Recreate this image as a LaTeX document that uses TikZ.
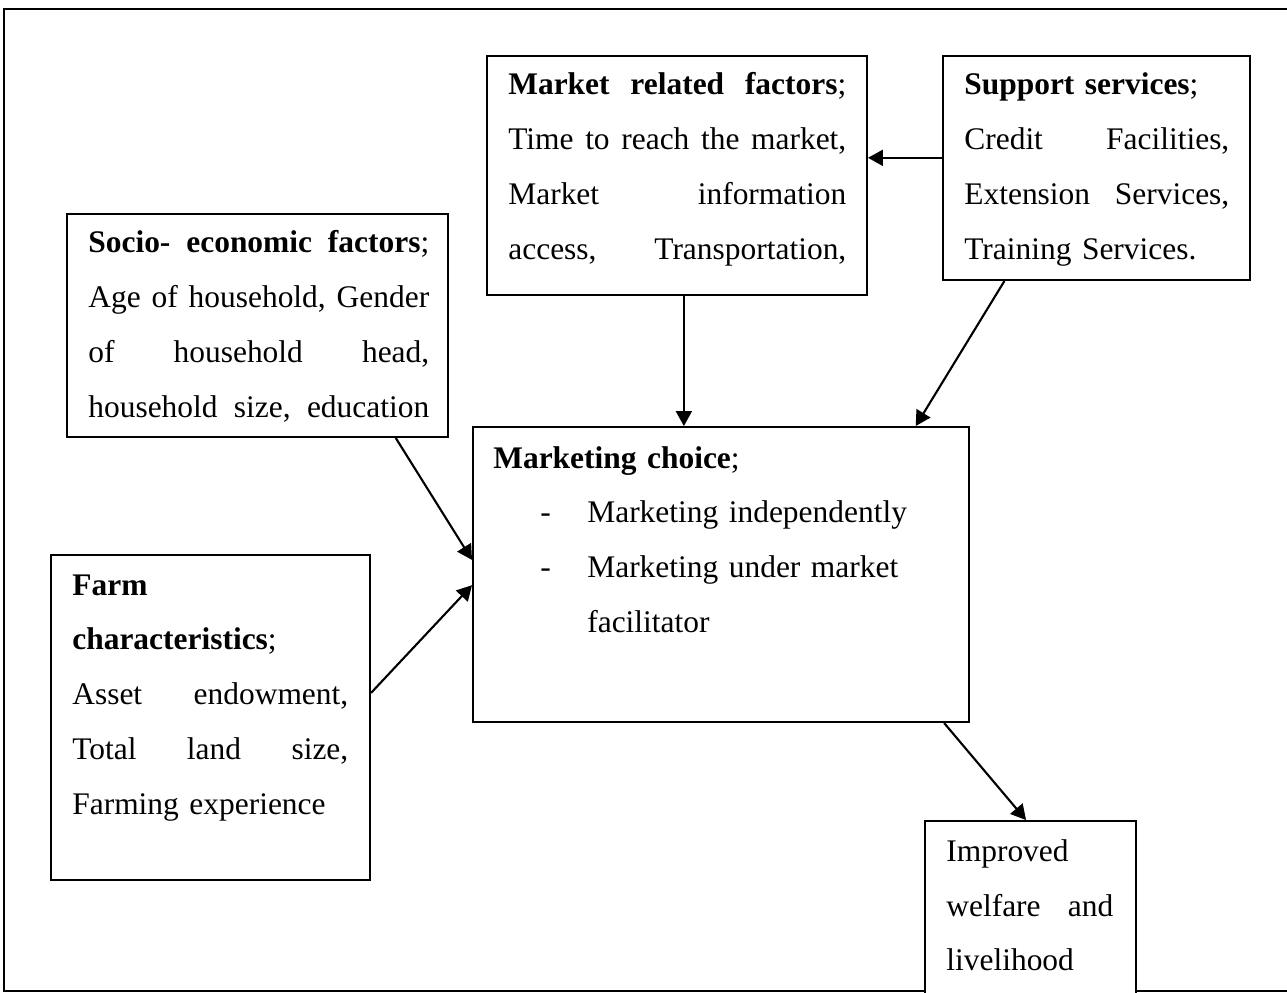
\documentclass[tikz,border=0pt]{standalone}
\usepackage{fontspec}
\setmainfont{Liberation Serif}
\usetikzlibrary{arrows.meta, calc, fit}
\newcommand{\nohyph}{\hyphenpenalty=10000\relax\exhyphenpenalty=10000\relax}

\begin{document}
\begin{tikzpicture}[x=0.02cm, y=-0.02cm,
        fbox/.style={draw, line width=1.1pt, fill=white, inner sep=0pt},
        txt/.style={inner sep=0pt, anchor=base west, align=left, font=\fontsize{17.9pt}{31.3pt}\selectfont\nohyph},
        arr/.style={line width=1.2pt, -{Triangle[length=0.3cm, width=0.32cm]}}]
        \useasboundingbox (0,0) rectangle (1287,993);
        \begin{scope}
        \clip (0,0) rectangle (1287,993);
        % Draw the outer frame
        \draw[line width=1.4pt] (4,9) rectangle (1300,991);
        % Draw the boxes
        \node[fbox, fit={(487,56) (867,295)}] (market) {};
        \node[fbox, fit={(943,56) (1250,280)}] (support) {};
        \node[fbox, fit={(67,214) (448,437)}] (socio) {};
        \node[fbox, fit={(51,555) (370,880)}] (farm) {};
        \node[fbox, fit={(473,427) (969,722)}] (choice) {};
        \node[fbox, fit={(925,821) (1136,1010)}] (welfare) {};
        \end{scope}

        % Texts of the boxes (lines spread out with ~\hfill)
        \node[txt, text width=6.76cm] (markettxt) at (508,95) {\textbf{Market~\hfill related~\hfill factors};\\
            Time~\hfill to~\hfill reach~\hfill the~\hfill market,\\ Market~\hfill information\\ access,~\hfill Transportation,};
        \node[txt, text width=5.3cm] (supporttxt) at (964,95) {\textbf{Support services};\\
            Credit~\hfill Facilities,\\ Extension~\hfill Services,\\ Training Services.};
        \node[txt, text width=6.82cm] (sociotxt) at (88,253) {\textbf{Socio-~\hfill economic~\hfill factors};\\
            Age~\hfill of~\hfill household,~\hfill Gender\\ of~\hfill household~\hfill head,\\ household~\hfill size,~\hfill education};
        \node[txt, text width=5.52cm] (farmtxt) at (72,595) {\textbf{Farm}\\ \textbf{characteristics};\\
            Asset~\hfill endowment,\\ Total~\hfill land~\hfill size,\\ Farming experience};
        \node[txt, text width=9.2cm] (choicetxt) at (493,468) {\textbf{Marketing choice};\\
            \hspace*{0.94cm}\makebox[0.94cm][l]{-}Marketing independently\\
            \hspace*{0.94cm}\makebox[0.94cm][l]{-}Marketing under market\\
            \hspace*{1.88cm}facilitator};
        \node[txt, text width=3.34cm] (welfaretxt) at (946,861) {Improved\\ welfare~\hfill and\\ livelihood};

        % Draw the arrows
        \coordinate (s1) at ($(support.north west)!0.455!(support.south west)$);
        \draw[arr] (s1) -- (s1 -| market.east);
        \coordinate (m1) at ($(market.south west)!0.518!(market.south east)$);
        \draw[arr] (m1) -- (m1 |- choice.north);
        \draw[arr] ($(support.south west)!0.202!(support.south east)$) -- ($(choice.north west)!0.891!(choice.north east)$);
        \draw[arr] ($(socio.south west)!0.861!(socio.south east)$) -- ($(choice.north west)!0.451!(choice.south west)$);
        \draw[arr] ($(farm.north east)!0.425!(farm.south east)$) -- ($(choice.north west)!0.536!(choice.south west)$);
        \draw[arr] ($(choice.south west)!0.948!(choice.south east)$) -- ($(welfare.north west)!0.479!(welfare.north east)$);
    \end{tikzpicture}
\end{document}
